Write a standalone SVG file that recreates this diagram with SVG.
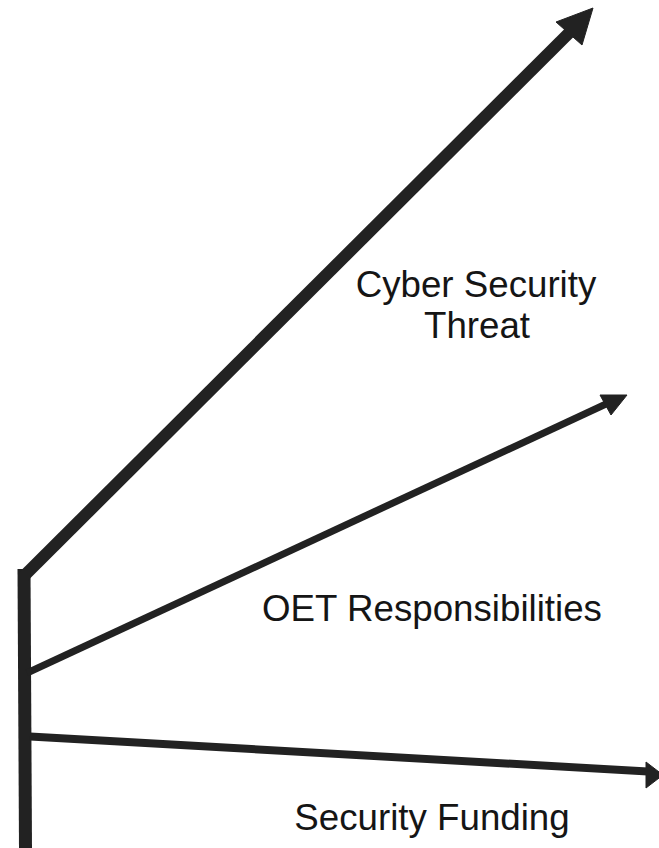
<svg xmlns="http://www.w3.org/2000/svg" width="659" height="848" viewBox="0 0 659 848">
  <style>
    .shaft { stroke: #222; fill: none; stroke-linecap: butt; }
    .head { fill: #222; stroke: #222; stroke-width: 1; stroke-linejoin: miter; }
    .label { font-family: "Liberation Sans", Arial, sans-serif; font-size: 36.7px; fill: #151515; text-anchor: middle; }
  </style>
  <rect width="659" height="848" fill="#ffffff"/>

  <g id="connectors">
    <!-- vertical axis -->
    <line class="shaft" x1="24" y1="569" x2="25.5" y2="848" stroke-width="13"/>
    <!-- cyber security threat trend -->
    <line class="shaft" x1="24" y1="576" x2="570" y2="32" stroke-width="12"/>
    <polygon class="head" points="593,8 556,22 582,45"/>
    <!-- OET responsibilities trend -->
    <line class="shaft" x1="27" y1="673" x2="606" y2="404" stroke-width="7"/>
    <polygon class="head" points="627,395 600,395 611,415"/>
    <!-- security funding trend -->
    <line class="shaft" x1="30" y1="736.5" x2="648" y2="771.5" stroke-width="8"/>
    <polygon class="head" points="663,775 646,762 646,788"/>
  </g>

  <g id="cyber-security-threat">
    <text class="label" x="476" y="297">Cyber Security</text>
    <text class="label" x="477" y="338">Threat</text>
  </g>
  <g id="oet-responsibilities">
    <text class="label" x="432" y="621">OET Responsibilities</text>
  </g>
  <g id="security-funding">
    <text class="label" x="432" y="830">Security Funding</text>
  </g>
</svg>
